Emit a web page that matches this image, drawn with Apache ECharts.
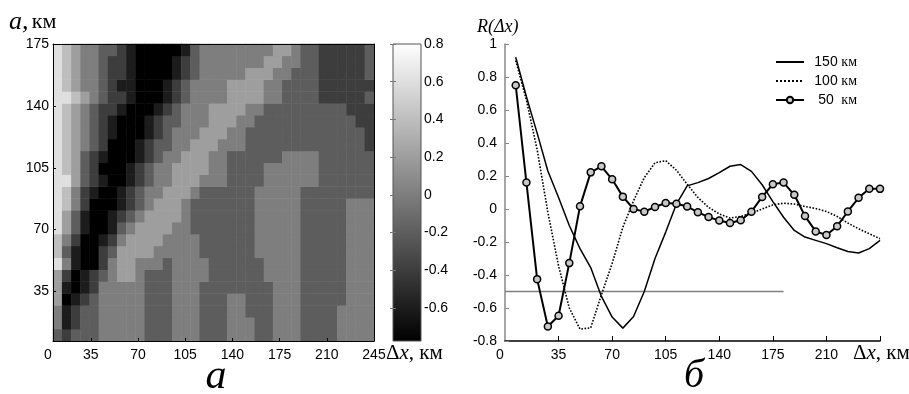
<!DOCTYPE html>
<html><head><meta charset="utf-8">
<script src="https://cdn.jsdelivr.net/npm/echarts@6/dist/echarts.min.js"></script>
<style>html,body{margin:0;padding:0;background:#fff}#c{width:909px;height:394px}</style>
</head><body><div id="c"></div>
<script>
// ---- data ----
const dxKm = [7,14,21,28,35,42,49,56,63,70,77,84,91,98,105,112,119,126,133,140,147,154,161,168,175,182,189,196,203,210,217,224,231,238,245];
const aKm = [7,14,21,28,35,42,49,56,63,70,77,84,91,98,105,112,119,126,133,140,147,154,161,168,175];

// R(dx) curves (right panel)
const r150 = [0.92,0.68,0.46,0.23,0.07,-0.10,-0.24,-0.355,-0.53,-0.655,-0.722,-0.652,-0.50,-0.30,-0.14,0.03,0.14,0.16,0.185,0.22,0.259,0.269,0.228,0.147,0.045,-0.05,-0.13,-0.17,-0.19,-0.21,-0.235,-0.258,-0.267,-0.24,-0.19];
const r100 = [0.9,0.66,0.36,-0.02,-0.345,-0.6,-0.728,-0.72,-0.52,-0.33,-0.11,0.05,0.19,0.28,0.293,0.235,0.15,0.07,0.01,-0.03,-0.055,-0.045,-0.025,0.0,0.025,0.035,0.03,0.015,0.003,-0.015,-0.045,-0.085,-0.12,-0.15,-0.18];
const r50 = [0.75,0.16,-0.425,-0.712,-0.647,-0.328,0.016,0.222,0.259,0.18,0.075,0.0,-0.016,0.012,0.036,0.032,0.015,-0.019,-0.049,-0.07,-0.085,-0.068,-0.016,0.073,0.15,0.16,0.086,-0.043,-0.136,-0.157,-0.104,-0.015,0.068,0.123,0.122];
const thresholdX = [0, 182];
const thresholdY = -0.5;

// contour field R(dx, a), one row per scale a (left panel)
const zA7   = [-0.1,-0.3,-0.1,-0.1,-0.1,0.1,0.1,0.1,0.1,0.1,-0.1,-0.1,-0.1,0.1,0.1,0.1,-0.1,-0.1,-0.1,0.1,0.1,0.1,-0.1,-0.1,0.1,0.1,0.1,-0.1,-0.1,-0.1,-0.1,0.1,0.1,0.1,0.1];
const zA14  = [0.1,-0.5,-0.3,-0.1,-0.1,0.1,0.1,0.1,0.1,0.1,-0.1,-0.1,-0.1,0.1,0.1,0.1,-0.1,-0.1,-0.1,0.1,0.1,0.1,-0.1,-0.1,0.1,0.1,0.1,-0.1,-0.1,-0.1,-0.1,0.1,0.1,0.1,0.1];
const zA21  = [0.1,-0.5,-0.3,-0.1,-0.1,0.1,0.1,0.1,0.1,0.1,-0.1,-0.1,-0.1,0.1,0.1,0.1,-0.1,-0.1,-0.1,0.1,0.1,-0.1,-0.1,-0.1,0.1,0.1,0.1,-0.1,-0.1,-0.1,-0.1,0.1,0.1,0.1,0.1];
const zA28  = [0.3,-0.7,-0.5,-0.3,-0.1,0.1,0.1,0.1,0.1,0.1,-0.1,-0.1,-0.1,0.1,0.1,0.1,-0.1,-0.1,-0.1,0.1,0.1,-0.1,-0.1,-0.1,0.1,0.1,0.1,-0.1,-0.1,-0.1,-0.1,-0.1,0.1,0.1,0.1];
const zA35  = [0.3,-0.5,-0.7,-0.5,-0.3,0.1,0.1,0.1,0.1,0.1,-0.1,-0.1,-0.1,0.1,0.1,0.1,-0.1,-0.1,-0.1,-0.1,-0.1,-0.1,-0.1,-0.1,0.1,0.1,0.1,-0.1,-0.1,-0.1,-0.1,-0.1,0.1,0.1,0.1];
const zA42  = [0.3,-0.3,-0.7,-0.5,-0.3,-0.1,0.1,0.3,0.3,0.1,-0.1,-0.1,-0.1,0.1,0.1,0.1,0.1,-0.1,-0.1,-0.1,-0.1,-0.1,-0.1,0.1,0.1,0.1,0.1,-0.1,-0.1,-0.1,-0.1,-0.1,0.1,0.1,0.1];
const zA56  = [0.5,-0.1,-0.5,-0.7,-0.7,-0.3,-0.1,0.3,0.3,0.3,0.3,0.1,0.1,0.1,0.1,0.1,-0.1,-0.1,-0.1,-0.1,-0.1,-0.1,0.1,0.1,0.1,0.1,0.1,-0.1,-0.1,-0.1,-0.1,-0.1,0.1,0.1,0.1];
const zA63  = [0.5,0.1,-0.3,-0.7,-0.7,-0.5,-0.3,0.1,0.3,0.3,0.3,0.3,0.1,0.1,0.1,0.1,-0.1,-0.1,-0.1,-0.1,-0.1,-0.1,0.1,0.1,0.1,0.1,0.1,-0.1,-0.1,-0.1,-0.1,-0.1,0.1,0.1,0.1];
const zA70  = [0.7,0.3,-0.1,-0.5,-0.7,-0.7,-0.5,-0.1,0.1,0.3,0.3,0.3,0.3,0.1,0.1,-0.1,-0.1,-0.1,-0.1,-0.1,-0.1,-0.1,0.1,0.1,0.1,0.1,0.1,-0.1,-0.1,-0.1,-0.1,-0.1,0.1,0.1,0.1];
const zA77  = [0.7,0.3,-0.1,-0.5,-0.7,-0.7,-0.5,-0.3,-0.1,0.1,0.3,0.3,0.3,0.3,0.1,-0.1,-0.1,-0.1,-0.1,-0.1,-0.1,-0.1,0.1,0.1,0.1,0.1,0.1,-0.1,-0.1,-0.1,-0.1,-0.1,0.1,0.1,0.1];
const zA84  = [0.7,0.5,0.1,-0.3,-0.7,-0.7,-0.7,-0.5,-0.3,-0.1,0.1,0.3,0.3,0.3,0.1,-0.1,-0.1,-0.1,-0.1,-0.1,-0.1,-0.1,0.1,0.1,0.1,0.1,0.1,-0.1,-0.1,-0.1,-0.1,-0.1,0.1,0.1,0.1];
const zA91  = [0.7,0.5,0.1,-0.3,-0.5,-0.7,-0.7,-0.5,-0.3,-0.1,0.1,0.1,0.3,0.3,0.3,0.1,-0.1,-0.1,-0.1,-0.1,-0.1,-0.1,0.1,0.1,0.1,0.1,0.1,-0.1,-0.1,-0.1,-0.1,-0.1,-0.1,-0.1,-0.1];
const zA105 = [0.7,0.5,0.3,-0.1,-0.3,-0.7,-0.7,-0.7,-0.5,-0.3,-0.1,0.1,0.1,0.3,0.3,0.3,0.3,0.1,0.1,-0.1,-0.1,-0.1,-0.1,0.1,0.1,0.1,0.1,0.1,0.1,-0.1,-0.1,-0.1,-0.1,-0.1,-0.1];
const zA112 = [0.7,0.5,0.3,-0.1,-0.3,-0.5,-0.7,-0.7,-0.7,-0.5,-0.3,-0.1,0.1,0.1,0.3,0.3,0.3,0.1,0.1,-0.1,-0.1,-0.1,-0.1,-0.1,-0.1,0.1,0.1,0.1,0.1,-0.1,-0.1,-0.1,-0.1,-0.1,-0.1];
const zA119 = [0.7,0.5,0.3,0.1,-0.1,-0.3,-0.7,-0.7,-0.7,-0.5,-0.3,-0.1,-0.1,0.1,0.1,0.3,0.3,0.3,0.1,0.1,0.1,-0.1,-0.1,-0.1,-0.1,-0.1,-0.1,-0.1,-0.1,-0.1,-0.1,-0.1,-0.1,-0.1,-0.3];
const zA126 = [0.7,0.5,0.3,0.1,-0.1,-0.3,-0.5,-0.7,-0.7,-0.7,-0.5,-0.3,-0.1,0.1,0.1,0.1,0.3,0.3,0.3,0.1,0.1,-0.1,-0.1,-0.1,-0.1,-0.1,-0.1,-0.1,-0.1,-0.1,-0.1,-0.1,-0.1,-0.1,-0.3];
const zA133 = [0.7,0.5,0.3,0.1,-0.1,-0.3,-0.5,-0.7,-0.7,-0.7,-0.5,-0.3,-0.1,-0.1,0.1,0.1,0.1,0.3,0.3,0.3,0.1,0.1,-0.1,-0.1,-0.1,-0.1,-0.1,-0.1,-0.1,-0.1,-0.1,-0.1,-0.1,-0.3,-0.3];
const zA140 = [0.7,0.5,0.3,0.1,-0.1,-0.3,-0.3,-0.5,-0.7,-0.7,-0.7,-0.5,-0.3,-0.1,0.1,0.1,0.1,0.3,0.3,0.3,0.3,0.1,0.1,-0.1,-0.1,-0.1,-0.1,-0.1,-0.1,-0.1,-0.1,-0.1,-0.3,-0.3,-0.3];
const zA154 = [0.7,0.5,0.3,0.1,0.1,-0.1,-0.3,-0.5,-0.5,-0.7,-0.7,-0.7,-0.5,-0.3,-0.1,0.1,0.1,0.1,0.1,0.3,0.3,0.3,0.3,0.1,0.1,-0.1,-0.1,-0.1,-0.1,-0.3,-0.3,-0.3,-0.3,-0.3,-0.3];
const zA161 = [0.7,0.5,0.3,0.1,0.1,-0.1,-0.3,-0.3,-0.5,-0.7,-0.7,-0.7,-0.7,-0.5,-0.3,-0.1,0.1,0.1,0.1,0.1,0.1,0.3,0.3,0.3,0.1,0.1,-0.1,-0.1,-0.1,-0.3,-0.3,-0.3,-0.3,-0.3,-0.1];
const zA168 = [0.7,0.5,0.3,0.1,0.1,-0.1,-0.3,-0.3,-0.5,-0.7,-0.7,-0.7,-0.7,-0.5,-0.3,-0.1,0.1,0.1,0.1,0.1,0.1,0.1,0.1,0.3,0.3,0.1,0.1,-0.1,-0.1,-0.3,-0.3,-0.3,-0.3,-0.3,-0.1];
const zA175 = [0.7,0.5,0.3,0.1,0.1,-0.1,-0.1,-0.3,-0.5,-0.7,-0.7,-0.7,-0.7,-0.7,-0.5,-0.1,0.1,0.1,0.1,0.1,0.1,0.1,0.1,0.1,0.3,0.3,0.1,-0.1,-0.1,-0.3,-0.3,-0.3,-0.3,-0.3,-0.1];
const contourRows = [zA7,zA14,zA21,zA28,zA35,zA42,r50,zA56,zA63,zA70,zA77,zA84,zA91,r100,zA105,zA112,zA119,zA126,zA133,zA140,r150,zA154,zA161,zA168,zA175];

// ticks / levels
const leftXTickValues = [7,35,70,105,140,175,210,245];
const leftYTickValues = [35,70,105,140,175];
const barTickValues = [-0.6,-0.4,-0.2,0,0.2,0.4,0.6,0.8];
const barMin = -0.776, barMax = 0.8;
const bandLevels = [-0.6,-0.4,-0.2,0,0.2,0.4,0.6];
const bandColors = ['#000000','#1c1c1c','#3d3d3d','#5d5d5d','#7e7e7e','#9e9e9e','#bebebe','#dfdfdf'];
const rightXLabelValues = [0,35,70,105,140,175,210];
const rightXTickValues = [35,70,105,140,175,210,245];

// ---- build ----
const heatData = [];
contourRows.forEach((row, i) => row.forEach((v, j) => heatData.push([j, i, v])));
const pieces = bandColors.map((c, k) => {
  const p = {color: c};
  if (k > 0) p.gte = bandLevels[k - 1];
  if (k < bandLevels.length) p.lt = bandLevels[k];
  return p;
});
const pair = arr => dxKm.map((x, i) => [x, arr[i]]);
const SANS = 'Liberation Sans', SERIF = 'Liberation Serif';
const lbl = {fontFamily: SANS, fontSize: 14, color: '#000'};
const fmt1 = v => Math.abs(v) < 1e-9 ? '0' : String(Math.round(v * 10) / 10);

const chart = echarts.init(document.getElementById('c'), null, {renderer: 'canvas'});
chart.setOption({
  animation: false,
  backgroundColor: '#fff',
  grid: [
    {left: 53, top: 44, width: 321, height: 297, show: false},
    {left: 393, top: 44, width: 28, height: 297, show: true, borderColor: '#555', borderWidth: 1,
     backgroundColor: new echarts.graphic.LinearGradient(0, 0, 0, 1, [{offset: 0, color: '#ffffff'}, {offset: 1, color: '#000000'}])},
    {left: 505, top: 44, width: 375, height: 297, show: false}
  ],
  xAxis: [
    {type: 'category', gridIndex: 0, data: dxKm.map(String), position: 'top', z: 5,
     axisLine: {show: true, lineStyle: {color: '#000', width: 1}}, axisTick: {show: false}, axisLabel: {show: false}, splitLine: {show: false}},
    {type: 'value', gridIndex: 0, min: 7, max: 245, position: 'bottom', z: 5,
     axisLine: {show: true, onZero: false, lineStyle: {color: '#000', width: 1}},
     axisTick: {show: true, inside: true, length: 3, customValues: leftXTickValues.slice(1, -1), lineStyle: {color: '#000'}},
     axisLabel: Object.assign({}, lbl, {customValues: leftXTickValues, margin: 7,
       formatter: v => v === 7 ? '{z|0}' : String(v), rich: {z: {fontFamily: SANS, fontSize: 14, color: '#000', padding: [0, 10, 0, 0]}}}),
     splitLine: {show: false}},
    {type: 'value', gridIndex: 1, min: 0, max: 1, show: false},
    {type: 'value', gridIndex: 2, min: 0, max: 245, position: 'bottom',
     axisLine: {show: true, onZero: false, lineStyle: {color: '#000', width: 1.5}},
     axisTick: {show: true, inside: true, length: 5, customValues: rightXTickValues, lineStyle: {color: '#000'}},
     axisLabel: Object.assign({}, lbl, {customValues: rightXLabelValues, margin: 7,
       formatter: v => v === 0 ? '{z|0}' : String(v), rich: {z: {fontFamily: SANS, fontSize: 14, color: '#000', padding: [0, 10, 0, 0]}}}),
     splitLine: {show: false}}
  ],
  yAxis: [
    {type: 'category', gridIndex: 0, data: aKm.map(String), position: 'right', z: 5,
     axisLine: {show: true, lineStyle: {color: '#000', width: 1}}, axisTick: {show: false}, axisLabel: {show: false}, splitLine: {show: false}},
    {type: 'value', gridIndex: 0, min: 7, max: 175, position: 'left', z: 5,
     axisLine: {show: true, onZero: false, lineStyle: {color: '#000', width: 1}},
     axisTick: {show: true, inside: true, length: 3, customValues: leftYTickValues, lineStyle: {color: '#000'}},
     axisLabel: Object.assign({}, lbl, {customValues: leftYTickValues, margin: 4}),
     splitLine: {show: false}},
    {type: 'value', gridIndex: 1, min: barMin, max: barMax, position: 'right',
     axisLine: {show: false},
     axisTick: {show: true, inside: true, length: 3, customValues: barTickValues, lineStyle: {color: '#777'}},
     axisLabel: Object.assign({}, lbl, {customValues: barTickValues, margin: 3, formatter: fmt1}),
     splitLine: {show: false}},
    {type: 'value', gridIndex: 2, min: -0.8, max: 1, interval: 0.2, position: 'left',
     axisLine: {show: true, onZero: false, lineStyle: {color: '#888', width: 1.5}},
     axisTick: {show: true, inside: true, length: 4, lineStyle: {color: '#888'}},
     axisLabel: Object.assign({}, lbl, {margin: 8, formatter: fmt1}),
     splitLine: {show: false}},
    {type: 'value', gridIndex: 1, min: barMin, max: barMax, position: 'left',
     axisLine: {show: false},
     axisTick: {show: true, inside: true, length: 3, customValues: barTickValues, lineStyle: {color: '#777'}},
     axisLabel: {show: false}, splitLine: {show: false}}
  ],
  visualMap: [{type: 'piecewise', show: false, seriesIndex: 0, dimension: 2, pieces: pieces}],
  legend: {
    data: [
      {name: '150 км', itemStyle: {opacity: 0}},
      {name: '100 км', itemStyle: {opacity: 0}},
      {name: '50 км'}
    ],
    orient: 'vertical', left: 770, top: 50, itemWidth: 28, itemHeight: 8, itemGap: 5,
    formatter: name => {
      const parts = name.split(' ');
      return '{n|' + parts[0] + '} {k|' + parts[1] + '}';
    },
    textStyle: {padding: [0, 0, 0, 5], rich: {
      n: {fontFamily: SANS, fontSize: 14, color: '#000', width: 24, align: 'right'},
      k: {fontFamily: SERIF, fontSize: 14, color: '#000'}
    }}
  },
  series: [
    {type: 'heatmap', xAxisIndex: 0, yAxisIndex: 0, data: heatData, itemStyle: {borderWidth: 0}, emphasis: {disabled: true}, progressive: 0},
    {type: 'line', name: 'threshold', xAxisIndex: 3, yAxisIndex: 3, data: thresholdX.map(x => [x, thresholdY]),
     symbol: 'none', silent: true, lineStyle: {color: '#808080', width: 1.5}, itemStyle: {color: '#808080'}, z: 1},
    {type: 'line', name: '150 км', xAxisIndex: 3, yAxisIndex: 3, data: pair(r150), symbol: 'none',
     lineStyle: {color: '#000', width: 1.5}, itemStyle: {color: '#000'}},
    {type: 'line', name: '100 км', xAxisIndex: 3, yAxisIndex: 3, data: pair(r100), symbol: 'none',
     lineStyle: {color: '#000', width: 1.6, type: 'dotted'}, itemStyle: {color: '#000'}},
    {type: 'line', name: '50 км', xAxisIndex: 3, yAxisIndex: 3, data: pair(r50), symbol: 'circle', symbolSize: 7,
     lineStyle: {color: '#000', width: 2}, itemStyle: {color: '#c8c8c8', borderColor: '#000', borderWidth: 1.5}}
  ],
  graphic: [
    {type: 'text', x: 9, y: 22, style: {text: '{i|a,} {k|км}', verticalAlign: 'middle', rich: {
      i: {fontFamily: SERIF, fontStyle: 'italic', fontSize: 26, fill: '#000'},
      k: {fontFamily: SERIF, fontSize: 22, fill: '#000'}}}},
    {type: 'text', x: 386, y: 353, style: {text: '{d|Δ}{i|x}{k|, км}', verticalAlign: 'middle', rich: {
      d: {fontFamily: SERIF, fontSize: 21, fill: '#000'},
      i: {fontFamily: SERIF, fontStyle: 'italic', fontSize: 21, fill: '#000'},
      k: {fontFamily: SERIF, fontSize: 21, fill: '#000'}}}},
    {type: 'text', x: 853, y: 353, style: {text: '{d|Δ}{i|x}{k|, км}', verticalAlign: 'middle', rich: {
      d: {fontFamily: SERIF, fontSize: 21, fill: '#000'},
      i: {fontFamily: SERIF, fontStyle: 'italic', fontSize: 21, fill: '#000'},
      k: {fontFamily: SERIF, fontSize: 21, fill: '#000'}}}},
    {type: 'text', x: 477, y: 27, style: {text: 'R(Δx)', verticalAlign: 'middle',
      fontFamily: SERIF, fontStyle: 'italic', fontSize: 18, fill: '#000'}},
    {type: 'text', x: 216, y: 377, style: {text: 'а', align: 'center', verticalAlign: 'middle',
      fontFamily: SERIF, fontStyle: 'italic', fontSize: 42, fill: '#000'}},
    {type: 'text', x: 694, y: 376, style: {text: 'б', align: 'center', verticalAlign: 'middle',
      fontFamily: SERIF, fontStyle: 'italic', fontSize: 40, fill: '#000'}}
  ]
});
</script>
</body></html>
